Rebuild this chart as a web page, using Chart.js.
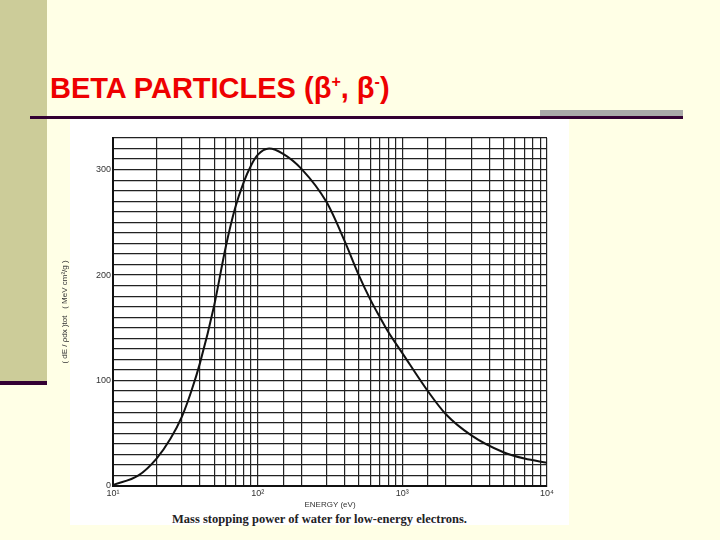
<!DOCTYPE html>
<html>
<head>
<meta charset="utf-8">
<script src="https://cdn.jsdelivr.net/npm/chart.js@4/dist/chart.umd.min.js"></script>
<style>
  body { margin: 0; width: 720px; height: 540px; background: #ffffe6; position: relative; overflow: hidden; font-family: 'Liberation Sans', Arial, sans-serif; }
  #band { position: absolute; left: 0; top: 0; width: 47px; height: 383px; background: #cccc99; }
  #bandLine { position: absolute; left: 0; top: 381px; width: 47px; height: 4px; background: #330033; }
  #title { position: absolute; left: 50px; top: 72px; color: #ee0000; font-weight: bold; font-size: 29px; }
  #rule { position: absolute; left: 30px; top: 116px; width: 653px; height: 3px; background: #330033; }
  #grey { position: absolute; left: 540px; top: 110px; width: 143px; height: 6px; background: #a9a9a9; }
  #panel { position: absolute; left: 70px; top: 119px; width: 499px; height: 406px; background: #ffffff; }
  #wrap { position: absolute; left: 60px; top: 125px; width: 510px; height: 385px; }
  #caption { position: absolute; left: 70px; top: 512px; width: 499px; text-align: center; font-family: 'Liberation Serif', serif; font-weight: bold; font-size: 12.5px; color: #222; }
</style>
</head>
<body>
<div id="band"></div><div id="bandLine"></div>
<div id="title">BETA PARTICLES (β<sup style="font-size:16px">+</sup>, β<sup style="font-size:16px">-</sup>)</div>
<div id="grey"></div><div id="rule"></div>
<div id="panel"></div>
<div id="wrap"><canvas id="c"></canvas></div>
<div id="caption">Mass stopping power of water for low-energy electrons.</div>
<script>
// Energy (eV) and mass stopping power (MeV cm2/g)
const energy = [10, 15, 20, 25, 30, 35, 40, 50, 60, 70, 80, 90, 100, 120, 150, 200, 300, 400, 500, 600, 700, 800, 1000, 1500, 2000, 3000, 5000, 7000, 10000];
const stopping = [1, 10, 26, 45, 66, 91, 117, 171, 226, 264, 288, 304, 314, 320, 315, 301, 269, 232, 200, 177, 160, 146, 126, 90, 68, 48, 32, 26, 22];
const supers = { 1: '¹', 2: '²', 3: '³', 4: '⁴' };

new Chart(document.getElementById('c'), {
    type: 'line',
    data: {
        datasets: [{
            data: energy.map((e, i) => ({ x: e, y: stopping[i] })),
            borderColor: '#111',
            borderWidth: 2,
            pointRadius: 0,
            cubicInterpolationMode: 'monotone'
        }]
    },
    options: {
        responsive: true,
        maintainAspectRatio: false,
        animation: false,
        layout: { padding: { top: 13, right: 23 } },
        plugins: { legend: { display: false }, tooltip: { enabled: false } },
        scales: {
            x: {
                type: 'logarithmic',
                min: 10, max: 10000,
                afterFit: s => { s.height = 24; },
                border: { color: '#111', width: 2 },
                grid: { color: '#222', lineWidth: 1.2, drawTicks: false },
                ticks: {
                    autoSkip: false, maxRotation: 0, padding: 2,
                    color: '#333', font: { size: 9 },
                    callback: v => {
                        const p = Math.log10(v);
                        return Math.abs(p - Math.round(p)) < 1e-9 ? '10' + supers[Math.round(p)] : '';
                    }
                },
                title: { display: true, text: 'ENERGY (eV)', color: '#333', font: { size: 8 }, padding: 0 }
            },
            y: {
                min: 0, max: 330,
                afterFit: s => { s.width = 53; },
                border: { color: '#111', width: 2 },
                grid: { color: '#222', lineWidth: 1.2, drawTicks: false },
                ticks: {
                    stepSize: 10, autoSkip: false, padding: 2,
                    color: '#333', font: { size: 9 },
                    callback: v => v % 100 === 0 ? v : ''
                },
                title: { display: true, text: '( dE / ρdx )tot   ( MeV cm²/g )', color: '#333', font: { size: 8 }, padding: 0 }
            }
        }
    }
});
</script>
</body>
</html>
